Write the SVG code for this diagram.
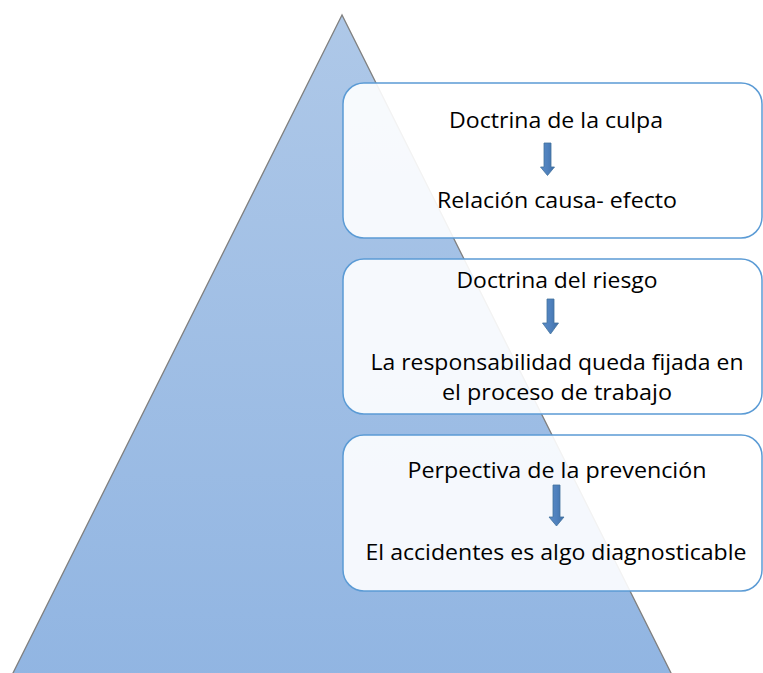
<svg xmlns="http://www.w3.org/2000/svg" width="763" height="673" viewBox="0 0 763 673">
<style>
.box{fill:#ffffff;fill-opacity:0.9;stroke:#5b9bd5;stroke-width:1.5}
.t{font-family:"Open Sans","Liberation Sans",Arial,sans-serif;font-size:22px;fill:#000000;text-anchor:middle}
.arr{fill:url(#ag);stroke:#41719c;stroke-width:0.8}
</style>
<defs>
<linearGradient id="tg" x1="0" y1="0" x2="0" y2="1">
<stop offset="0" stop-color="#aec8e8"/>
<stop offset="1" stop-color="#91b5e2"/>
</linearGradient>
<linearGradient id="ag" x1="0" y1="0" x2="1" y2="0">
<stop offset="0" stop-color="#5a8ac6"/>
<stop offset="0.5" stop-color="#4f81bd"/>
<stop offset="1" stop-color="#3f6ea8"/>
</linearGradient>
</defs>
<rect width="763" height="673" fill="#ffffff"/>
<g id="pyramid">
<polygon points="342,15 9,681 675,681" fill="url(#tg)" stroke="#7f7f7f" stroke-width="1.3"/>
</g>
<g id="box1">
<rect class="box" x="343" y="83" width="419" height="155" rx="21"/>
<text class="t" x="556" y="128" textLength="214" lengthAdjust="spacingAndGlyphs">Doctrina de la culpa</text>
<text class="t" x="557" y="208" textLength="240" lengthAdjust="spacingAndGlyphs">Relación causa- efecto</text>
</g>
<g id="box2">
<rect class="box" x="343" y="259" width="419" height="155" rx="21"/>
<text class="t" x="557" y="288" textLength="201" lengthAdjust="spacingAndGlyphs">Doctrina del riesgo</text>
<text class="t" x="557" y="370" textLength="373" lengthAdjust="spacingAndGlyphs">La responsabilidad queda fijada en</text>
<text class="t" x="557" y="400" textLength="230" lengthAdjust="spacingAndGlyphs">el proceso de trabajo</text>
</g>
<g id="box3">
<rect class="box" x="343" y="435" width="419" height="156" rx="21"/>
<text class="t" x="557" y="478" textLength="299" lengthAdjust="spacingAndGlyphs">Perpectiva de la prevención</text>
<text class="t" x="556" y="560" textLength="381" lengthAdjust="spacingAndGlyphs">El accidentes es algo diagnosticable</text>
</g>
<g id="connectors">
<polygon class="arr" points="544,143 551,143 551,167 554.5,167 547.5,175.5 540.5,167 544,167"/>
<polygon class="arr" points="547,299 554,299 554,323 558.5,323 550.5,334 542.5,323 547,323"/>
<polygon class="arr" points="553,485 560,485 560,517 564,517 556.5,526 549,517 553,517"/>
</g>
</svg>
